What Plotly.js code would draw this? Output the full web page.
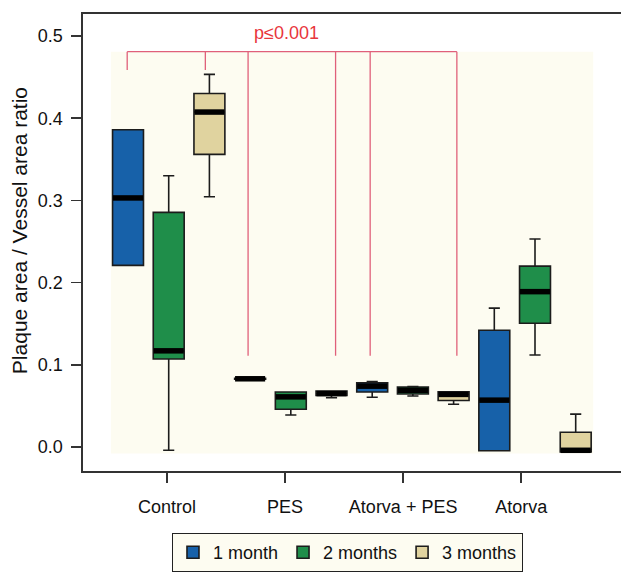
<!DOCTYPE html>
<html>
<head>
<meta charset="utf-8">
<script src="https://cdn.plot.ly/plotly-3.0.1.min.js"></script>
<style>html,body{margin:0;padding:0;background:#fff;}#chart{width:621px;height:577px;}</style>
</head>
<body>
<div id="chart"></div>
<script>
// ---- data ----
const groups = ["Control", "PES", "Atorva + PES", "Atorva"];
const seriesNames = ["1 month", "2 months", "3 months"];

const m1_median = [0.303, 0.083, 0.074, 0.057];
const m1_q1     = [0.221, 0.0825, 0.067, -0.0045];
const m1_q3     = [0.386, 0.0835, 0.078, 0.142];
const m1_lower  = [0.221, 0.0825, 0.0605, -0.0045];
const m1_upper  = [0.386, 0.0835, 0.0797, 0.169];

const m2_median = [0.117, 0.061, 0.069, 0.189];
const m2_q1     = [0.107, 0.046, 0.0645, 0.1505];
const m2_q3     = [0.2855, 0.067, 0.073, 0.220];
const m2_lower  = [-0.004, 0.039, 0.062, 0.112];
const m2_upper  = [0.330, 0.067, 0.0735, 0.253];

const m3_median = [0.4075, 0.065, 0.064, -0.004];
const m3_q1     = [0.356, 0.0627, 0.0566, -0.006];
const m3_q3     = [0.430, 0.068, 0.0673, 0.018];
const m3_lower  = [0.3045, 0.060, 0.052, -0.006];
const m3_upper  = [0.4534, 0.068, 0.0673, 0.040];

const yTitle = "Plaque area / Vessel area ratio";
const pLabel = "p\u22640.001";

// ---- styling ----
const colors = ["#1761A9", "#1F8E4A", "#E0D39F"];
const FONT = "'Liberation Sans', Arial, Helvetica, sans-serif";
const stats = [
  {median: m1_median, q1: m1_q1, q3: m1_q3, lower: m1_lower, upper: m1_upper},
  {median: m2_median, q1: m2_q1, q3: m2_q3, lower: m2_lower, upper: m2_upper},
  {median: m3_median, q1: m3_q1, q3: m3_q3, lower: m3_lower, upper: m3_upper}
];
const slot = (g, s) => g * 3 + s;

const traces = [];
stats.forEach((st, s) => {
  traces.push({
    type: "box",
    name: seriesNames[s],
    x: groups.map((_, g) => slot(g, s)),
    q1: st.q1, median: st.median, q3: st.q3,
    lowerfence: st.lower, upperfence: st.upper,
    width: 0.76,
    whiskerwidth: 0.36,
    fillcolor: colors[s],
    line: {color: "#1c1c1c", width: 1.6},
    marker: {color: colors[s]},
    boxpoints: false,
    hoverinfo: "skip"
  });
});
// thick median bars
stats.forEach((st, s) => {
  traces.push({
    type: "scatter", mode: "markers", showlegend: false, hoverinfo: "skip",
    x: groups.map((_, g) => slot(g, s)),
    y: st.median,
    marker: {symbol: "line-ew", size: 21.5, color: "#000", line: {color: "#000", width: 5.5}}
  });
});

const red = "#E0607A";
const bracketTop = 0.481;
const shortEnd = 0.4586, longEnd = 0.111;
const bracketX = [[-0.02, shortEnd], [1.9, shortEnd], [2.95, longEnd], [5.1, longEnd], [5.95, longEnd], [8.08, longEnd]];
const shapes = [
  {type: "rect", xref: "x", yref: "y", x0: -0.42, x1: 11.43, y0: -0.008, y1: 0.481,
   fillcolor: "#FDFCF1", line: {width: 0}, layer: "below"},
  {type: "line", xref: "x", yref: "y", x0: -0.02, x1: 8.08, y0: bracketTop, y1: bracketTop,
   line: {color: red, width: 1.3}}
];
bracketX.forEach(([x, e]) => shapes.push({type: "line", xref: "x", yref: "y", x0: x, x1: x, y0: bracketTop, y1: e, line: {color: red, width: 1.3}}));

const layout = {
  width: 621, height: 577,
  margin: {l: 83, r: 0, t: 14, b: 106},
  paper_bgcolor: "#fff", plot_bgcolor: "#fff",
  font: {family: FONT, size: 18, color: "#111"},
  boxmode: "overlay",
  showlegend: true,
  xaxis: {
    range: [-1.106, 12.113], showgrid: false, zeroline: false,
    showline: true, mirror: true, linecolor: "#333", linewidth: 1.6,
    ticks: "outside", ticklen: 10, tickwidth: 1.5, tickcolor: "#333",
    tickvals: groups.map((_, g) => g * 2.9 + 0.96), ticktext: groups,
    ticklabelstandoff: 9,
    tickfont: {family: FONT, size: 18, color: "#111"}
  },
  yaxis: {
    range: [-0.0292, 0.5268], showgrid: false, zeroline: false,
    showline: true, linecolor: "#333", linewidth: 1.6,
    ticks: "outside", ticklen: 10, tickwidth: 1.5, tickcolor: "#333",
    tickvals: [0, 0.1, 0.2, 0.3, 0.4, 0.5], tickformat: ".1f",
    ticklabelstandoff: 5,
    tickfont: {family: FONT, size: 18, color: "#111"}
  },
  legend: {
    orientation: "h", x: 0.1654, y: -0.1357, xanchor: "left", yanchor: "top",
    bgcolor: "#FDFCF1", bordercolor: "#222", borderwidth: 1,
    font: {family: FONT, size: 18, color: "#111"}
  },
  shapes: shapes,
  annotations: [
    {xref: "x", yref: "y", x: 3.9, y: 0.5036, text: pLabel, showarrow: false,
     font: {family: FONT, size: 18, color: "#E8363C"}},
    {xref: "paper", yref: "paper", x: -0.119, y: 0.527, xanchor: "center", yanchor: "middle",
     text: yTitle, textangle: -90, showarrow: false,
     font: {family: FONT, size: 21, color: "#111"}}
  ]
};

Plotly.newPlot("chart", traces, layout, {displayModeBar: false, staticPlot: true});
</script>
</body>
</html>
